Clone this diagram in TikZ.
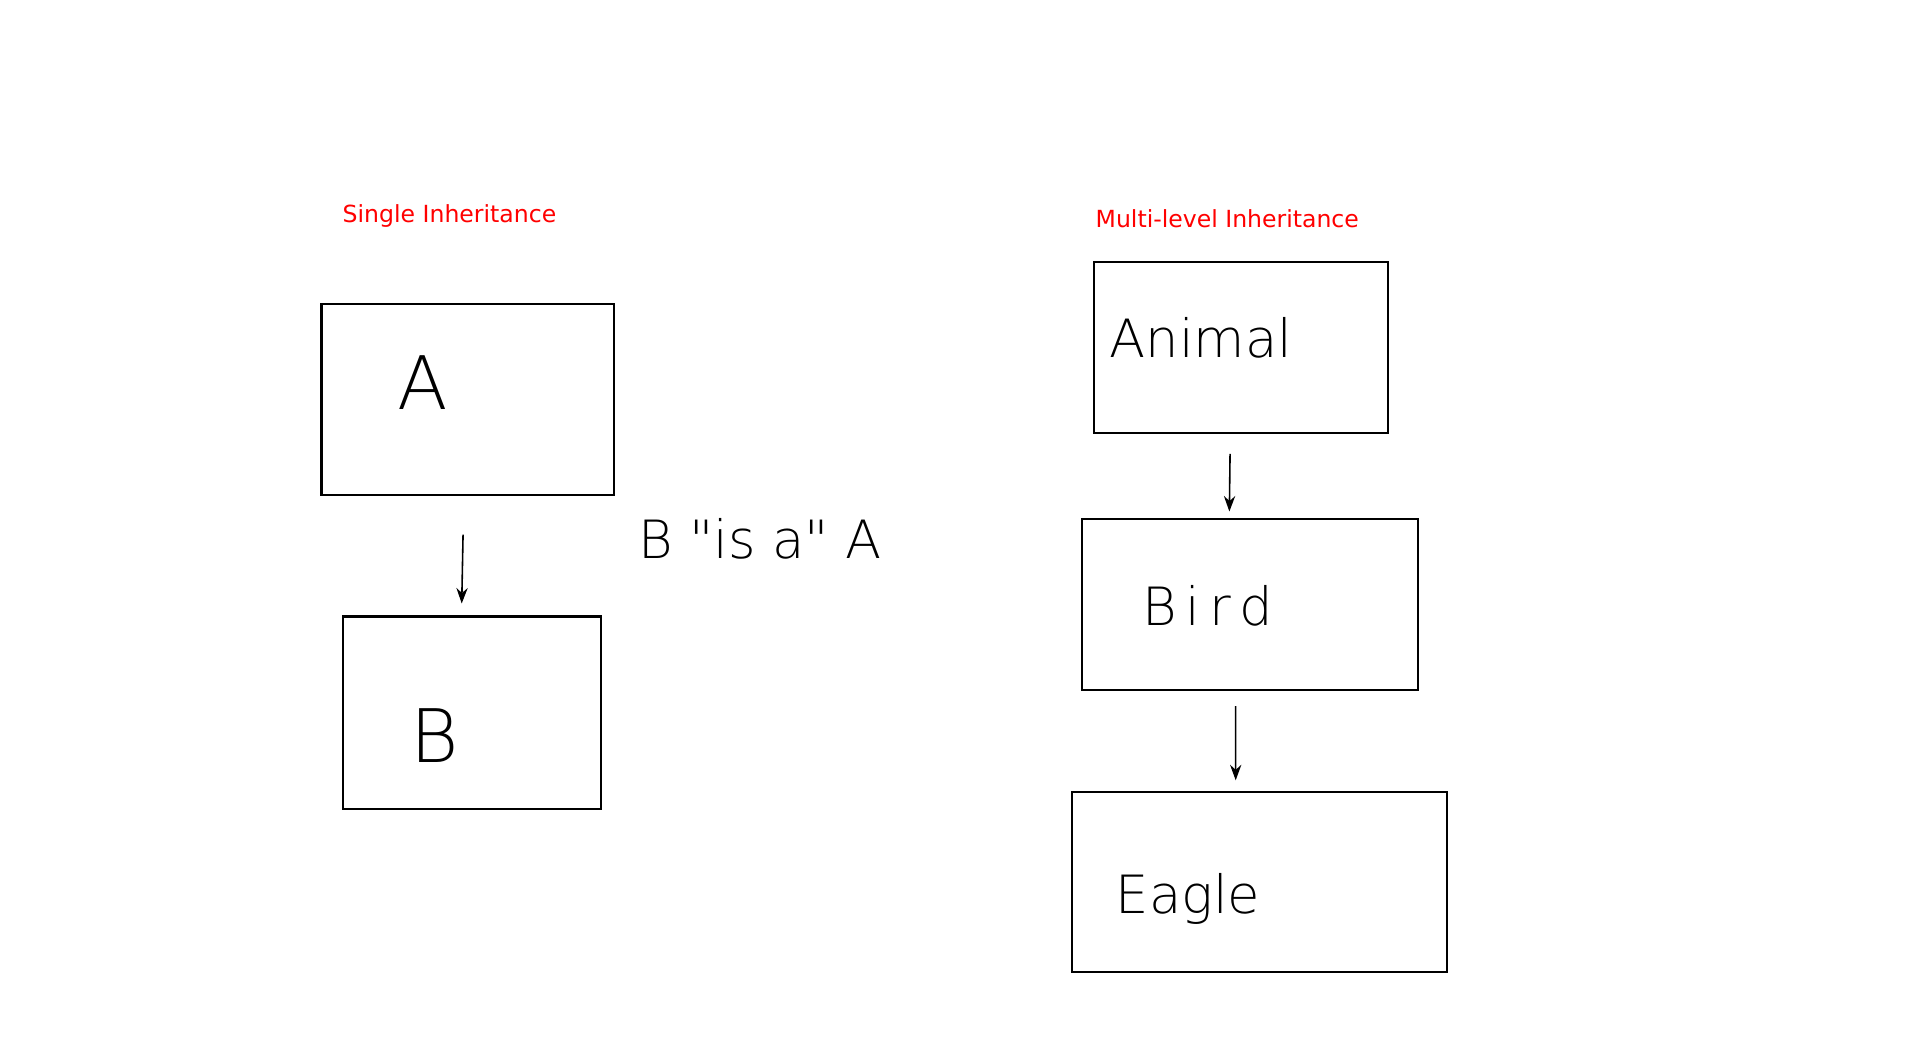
\documentclass[tikz,border=0pt]{standalone}
\usepackage{fontspec}
\usepackage{xcolor}
\usetikzlibrary{
arrows.meta,
positioning
}
\newfontfamily\headfont{DejaVu Sans}
\newfontfamily\handfont{DejaVu Sans ExtraLight}
\definecolor{headred}{HTML}{FF0000}

\begin{document}
\begin{tikzpicture}[
x=0.01cm, y=-0.01cm,
box/.style={
rectangle,
draw=black,
line width=0.6pt,
inner sep=0pt
},
heading/.style={anchor=base west, inner sep=0pt, text=headred,
font=\headfont\fontsize{6.7}{8}\selectfont},
hand/.style={anchor=base, inner sep=0pt, font=\handfont\fontsize{15}{18}\selectfont},
bigHand/.style={hand, font=\handfont\fontsize{21}{24}\selectfont},
arrow/.style={-{Stealth[length=4.4pt,width=3.2pt]}, line width=0.45pt}
]
\useasboundingbox (0,0) rectangle (1920,1057);

% single inheritance
\node[heading] (singleHead) at (342,222) {Single Inheritance};
\node[box, minimum width=2.92cm, minimum height=1.91cm] (a) at (467.6,399.8) {};
\node[box, minimum width=2.58cm, minimum height=1.92cm, below=1.19cm of a, xshift=0.044cm] (b) {};
\node[bigHand] (aLabel) at (423,409) {A};
\node[bigHand] (bLabel) at (435,762) {B};
\node[hand] (isA) at (760,558) {B "is a" A};

\draw[arrow, shorten <=0.383cm, shorten >=0.12cm] ([xshift=-0.038cm]a.south) -- ([xshift=-0.105cm]b.north);

% multi-level inheritance
\node[heading] (multiHead) at (1095,227) {Multi-level Inheritance};
\node[box, minimum width=2.946cm, minimum height=1.715cm] (animal) at (1241,347.6) {};
\node[box, minimum width=3.363cm, minimum height=1.715cm, below=0.83cm of animal, xshift=0.088cm] (bird) {};
\node[box, minimum width=3.753cm, minimum height=1.8cm, below=1.0cm of bird, xshift=0.096cm] (eagle) {};
\node[hand] (animalLabel) at (1201,357) {Animal};
\node[hand] (birdLabel) at (1208,625) {B\,i\,r\,d};
\node[hand] (eagleLabel) at (1188,913) {Eagle};

\draw[arrow, shorten <=0.193cm, shorten >=0.06cm] ([xshift=-0.107cm]animal.south) -- ([xshift=-0.205cm]bird.north);
\draw[arrow, shorten <=0.148cm, shorten >=0.11cm] ([xshift=-0.141cm]bird.south) -- ([xshift=-0.237cm]eagle.north);

\end{tikzpicture}
\end{document}
